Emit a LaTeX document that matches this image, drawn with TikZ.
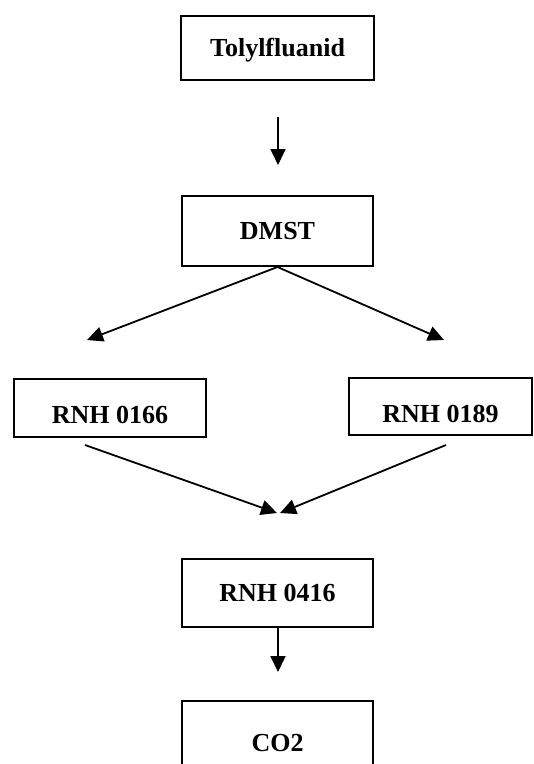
\documentclass[tikz,border=0pt]{standalone}
\usepackage{fontspec}
\setmainfont{Liberation Serif}
\usetikzlibrary{arrows.meta}
\begin{document}
\begin{tikzpicture}[x=1pt,y=-1pt,
  box/.style={draw, line width=2pt, inner sep=0pt, font=\fontsize{26}{30}\selectfont\bfseries, text depth=0pt, text height=17pt},
  lowtext/.style={text height=31pt},
  conn/.style={line width=1.8pt, -{Triangle[length=16pt,width=15pt]}}]
\useasboundingbox (0,0) rectangle (534,764);
\fill[white] (0,0) rectangle (534,764);
\node[box, minimum width=193pt, minimum height=64pt] (tol) at (277.5,48) {Tolylfluanid};
\node[box, minimum width=191pt, minimum height=70pt] (dmst) at (277.5,231) {DMST};
\node[box, lowtext, minimum width=192pt, minimum height=58pt] (r166) at (110,408) {RNH 0166};
\node[box, lowtext, minimum width=183pt, minimum height=57pt] (r189) at (440.5,406.5) {RNH 0189};
\node[box, minimum width=191pt, minimum height=68pt] (r416) at (277.5,593) {RNH 0416};
\node[box, minimum width=191pt, minimum height=84pt] (co2) at (277.5,743) {CO2};
\coordinate (a1s) at (278,117);
\coordinate (a1e) at (278,165);
\coordinate (bl) at (87,340);
\coordinate (br) at (444,340);
\coordinate (cls) at (85,445);
\coordinate (crs) at (446,445);
\coordinate (cl) at (277,513);
\coordinate (cr) at (280,513);
\coordinate (a6s) at (278,627);
\coordinate (a6e) at (278,672);
\draw[conn] (a1s) -- (a1e);
\draw[conn] (dmst.south) -- (bl);
\draw[conn] (dmst.south) -- (br);
\draw[conn] (cls) -- (cl);
\draw[conn] (crs) -- (cr);
\draw[conn] (r416.south -| a6s) -- (a6e);
\end{tikzpicture}
\end{document}
